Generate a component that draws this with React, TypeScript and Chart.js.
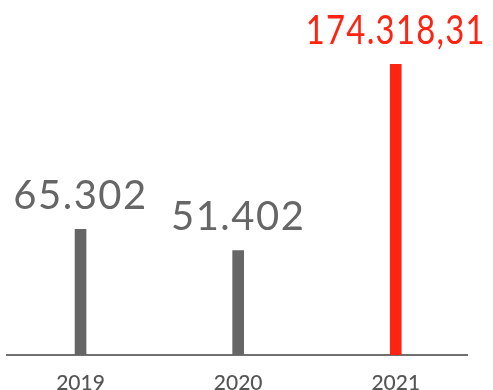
import React, { useEffect, useRef } from "react";
import { Chart, registerables } from "chart.js";

Chart.register(...registerables);

const categories = ["2019", "2020", "2021"];
const values = [65302, 51402, 174318.31];
const valueLabels = ["65.302", "51.402", "174.318,31"];
const barColors = ["#666666", "#666666", "#ff2312"];
const labelColors = ["#666666", "#666666", "#ff2312"];

const valueLabelPlugin = {
  id: "valueLabels",
  afterDatasetsDraw(chart: any) {
    const ctx = chart.ctx;
    const meta = chart.getDatasetMeta(0);
    ctx.save();
    ctx.font = "400 40px Lato";
    (ctx as any).letterSpacing = "1.5px";
    ctx.textAlign = "center";
    ctx.textBaseline = "alphabetic";
    meta.data.forEach((el: any, i: number) => {
      ctx.fillStyle = labelColors[i];
      ctx.fillText(valueLabels[i], el.x, el.y - 20, 180);
    });
    ctx.restore();
  },
};

export default function App() {
  const ref = useRef<HTMLCanvasElement | null>(null);
  useEffect(() => {
    document.body.style.margin = "0";
    const chart = new Chart(ref.current!, {
      type: "bar",
      data: {
        datasets: [
          {
            data: categories.map((c, i) => ({ x: i, y: values[i] })),
            backgroundColor: barColors,
            barThickness: 11,
            base: -17500,
          } as any,
        ],
      },
      options: {
        animation: false,
        responsive: false,
        maintainAspectRatio: false,
        layout: { padding: { left: 7, right: 26, top: 64, bottom: 0 } },
        plugins: { legend: { display: false }, tooltip: { enabled: false } },
        scales: {
          x: {
            type: "linear",
            offset: false,
            min: -0.4667,
            max: 2.452,
            grid: { display: false },
            border: { display: true, color: "#707070", width: 2 },
            afterBuildTicks: (s: any) => {
              s.ticks = categories.map((_, i) => ({ value: i }));
            },
            afterFit: (s: any) => {
              s.height = 35;
            },
            ticks: {
              padding: 8,
              maxRotation: 0,
              color: "#555555",
              font: { family: "Lato", size: 21, weight: "500" },
              callback: (v: any) => categories[v as number] ?? "",
            },
          },
          y: {
            display: false,
            min: -17500,
            max: 174318.31,
          },
        },
      },
      plugins: [valueLabelPlugin],
    });
    return () => chart.destroy();
  }, []);
  return <canvas ref={ref} width={493} height={390} style={{ display: "block" }} />;
}
